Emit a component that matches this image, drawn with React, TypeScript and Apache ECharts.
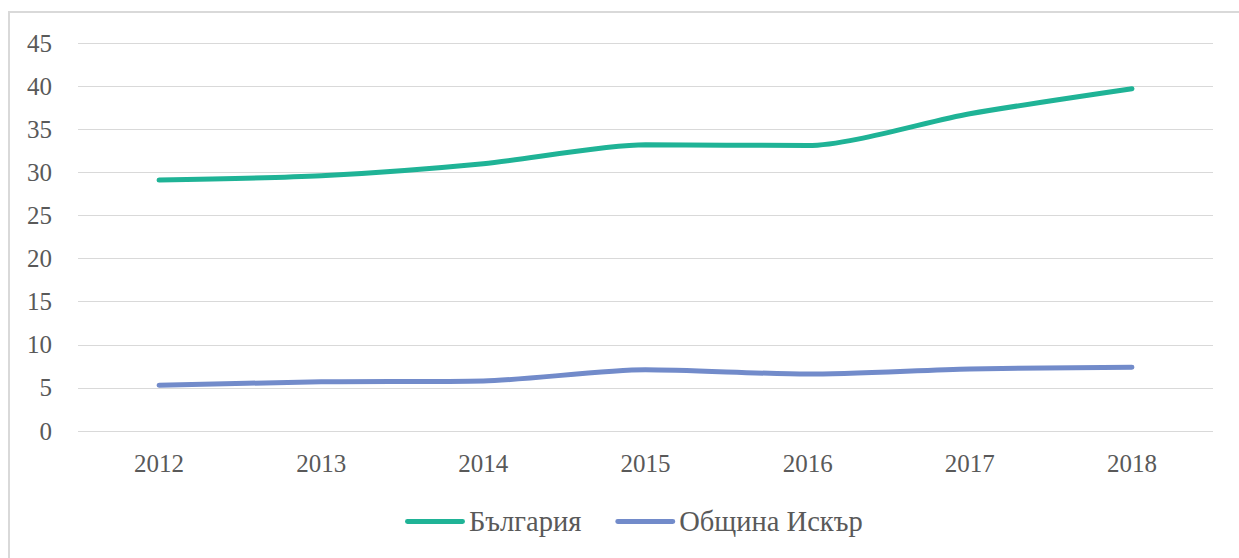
import React, { useEffect, useRef } from "react";
import * as echarts from "echarts";

const years = ["2012", "2013", "2014", "2015", "2016", "2017", "2018"];
const bulgaria = [29.1, 29.6, 31.0, 33.2, 33.1, 36.8, 39.7];
const iskar = [5.3, 5.7, 5.8, 7.1, 6.6, 7.2, 7.4];
const seriesNames = ["България", "Община Искър"];

export default function App() {
  const ref = useRef<HTMLDivElement>(null);
  useEffect(() => {
    if (!ref.current) return;
    const chart = echarts.init(ref.current, null, { renderer: "svg" });
    const font = "Liberation Serif";
    chart.setOption({
      animation: false,
      backgroundColor: "#ffffff",
      graphic: [
        {
          type: "rect",
          shape: { x: 9, y: 12, width: 1400, height: 700 },
          style: { fill: "none", stroke: "#d9d9d9", lineWidth: 2 },
          silent: true,
          z: -1,
        },
      ],
      grid: { left: 78, right: 26, top: 43, height: 388, containLabel: false },
      legend: {
        top: 502,
        left: 400,
        itemWidth: 60,
        itemHeight: 5,
        itemGap: 34,
        icon: "path://M2,0 L58,0 A2.5,2.5 0 0 1 58,5 L2,5 A2.5,2.5 0 0 1 2,0 Z",
        textStyle: { fontFamily: font, fontSize: 28.5, color: "#595959", padding: [0, 0, 0, -1] },
        data: seriesNames,
      },
      xAxis: {
        type: "category",
        data: years,
        boundaryGap: true,
        axisLine: { show: false },
        axisTick: { show: false },
        axisLabel: { fontFamily: font, fontSize: 25, color: "#595959", margin: 20 },
      },
      yAxis: {
        type: "value",
        min: 0,
        max: 45,
        interval: 5,
        axisLine: { show: false },
        axisTick: { show: false },
        axisLabel: { fontFamily: font, fontSize: 25, color: "#595959", margin: 26 },
        splitLine: { lineStyle: { color: "#d9d9d9", width: 1 } },
      },
      series: [
        {
          name: seriesNames[0],
          type: "line",
          data: bulgaria,
          smooth: 0.25,
          symbol: "none",
          color: "#1fb396",
          lineStyle: { width: 5, color: "#1fb396", cap: "round" },
        },
        {
          name: seriesNames[1],
          type: "line",
          data: iskar,
          smooth: 0.25,
          symbol: "none",
          color: "#728bca",
          lineStyle: { width: 5, color: "#728bca", cap: "round" },
        },
      ],
    });
    return () => chart.dispose();
  }, []);
  return (
    <div
      ref={ref}
      style={{ position: "absolute", left: 0, top: 0, width: 1239, height: 558 }}
    />
  );
}
